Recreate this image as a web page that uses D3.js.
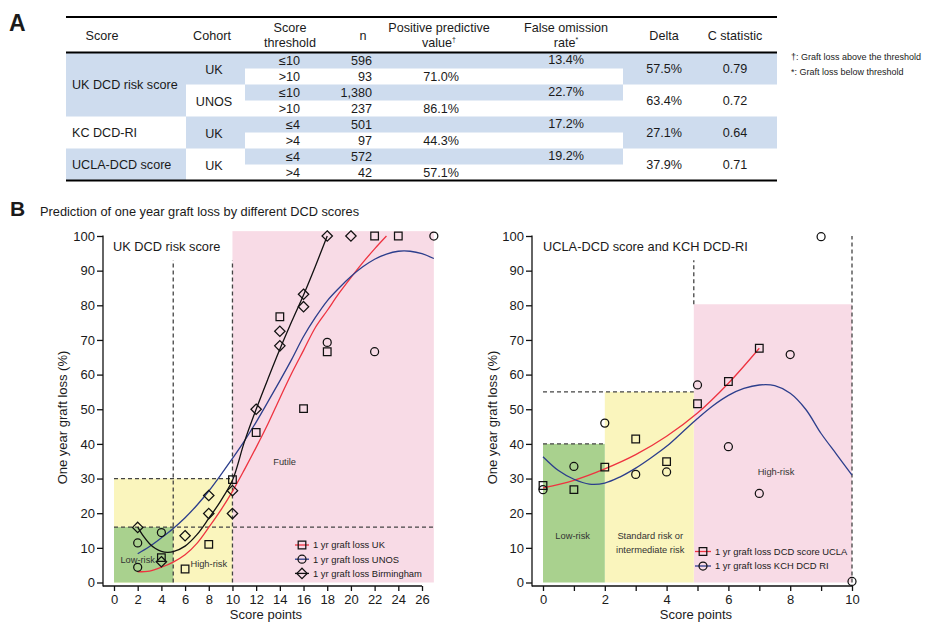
<!DOCTYPE html>
<html>
<head>
<meta charset="utf-8">
<script src="https://cdn.jsdelivr.net/npm/d3@7"></script>
<style>
  body { margin: 0; background: #fff; }
  svg { display: block; }
  text { font-family: Arial, "Liberation Sans", sans-serif; fill: #1a1a1a; }
</style>
</head>
<body>
<svg id="fig" width="925" height="622"></svg>
<script>
// ---- panel A table ----
var scoreNames = ["UK DCD risk score", "KC DCD-RI", "UCLA-DCD score"];
var scoreSpans = [4, 2, 2];
var cohorts = ["UK", "UNOS", "UK", "UK"];
var thresholds = ["≤10", ">10", "≤10", ">10", "≤4", ">4", "≤4", ">4"];
var nValues = [596, 93, 1380, 237, 501, 97, 572, 42];
var ppvValues = [null, 71.0, null, 86.1, null, 44.3, null, 57.1];
var forValues = [13.4, null, 22.7, null, 17.2, null, 19.2, null];
var deltaValues = [57.5, 63.4, 27.1, 37.9];
var cStats = [0.79, 0.72, 0.64, 0.71];

// ---- panel B left: UK DCD risk score ----
var ukX = [4, 6, 8, 10, 12, 14, 16, 18, 22, 24];
var ukY = [7.2, 3.9, 11, 29.7, 43.3, 76.7, 50.2, 66.6, 100, 100];
var unosX = [2, 2, 4, 18, 22, 27];
var unosY = [4.4, 11.4, 14.4, 69.3, 66.6, 100];
var birmX = [2, 4, 6, 8, 8, 10, 10, 12, 14, 14, 16, 16, 18, 20];
var birmY = [15.9, 6, 13.5, 19.9, 25.1, 19.9, 26.5, 50, 68.3, 72.5, 79.6, 83.2, 100, 100];

// fitted curves as drawn in the figure
var ukFitX = [2, 3, 4, 5, 6, 7, 8, 9, 10, 11, 12, 13, 14, 15, 16, 17, 18, 19, 20, 21, 22, 23];
var ukFitY = [3.1, 3.3, 4.4, 5.9, 8, 11.3, 15.9, 20.8, 26.3, 32.5, 39, 45.8, 53.2, 60.4, 67, 73.6, 78.5, 83.5, 88, 92.3, 96.3, 100];
var unosFitX = [2, 3, 4, 5, 6, 7, 8, 9, 10, 11, 12, 13, 14, 15, 16, 17, 18, 19, 20, 21, 22, 23, 24, 25, 26, 27];
var unosFitY = [8.3, 10.4, 12.9, 15.6, 18.7, 22.3, 26.4, 31, 35.8, 40.8, 46.3, 52.2, 58.2, 64.4, 71, 76.5, 81.3, 85, 88.3, 91.1, 93.3, 94.8, 95.6, 95.6, 94.9, 93.5];
var birmFitX = [2, 2.5, 3, 3.5, 4, 4.5, 5, 6, 7, 8, 9, 10, 11, 12, 13, 14, 15, 16, 17, 18];
var birmFitY = [16, 13.3, 11.2, 9.8, 9, 8.7, 8.9, 10.5, 13.8, 18.5, 23.5, 29.5, 40.5, 50, 58.8, 67.3, 75.3, 83, 91.3, 100];

// risk bands [x0, x1, y0, y1]
var leftBands = [
  { c: "#f8dbe6", b: [10, 27, 0, 101.4] },
  { c: "#faf5bd", b: [0, 10, 0, 30] },
  { c: "#a9d18e", b: [0, 5, 0, 16] }
];

// ---- panel B right: UCLA-DCD and KCH DCD-RI ----
var uclaX = [0, 1, 2, 3, 4, 5, 6, 7];
var uclaY = [28, 26.8, 33.3, 41.4, 34.9, 51.6, 58, 67.6];
var kchX = [0, 1, 2, 3, 4, 5, 6, 7, 8, 9, 10];
var kchY = [26.8, 33.5, 46, 31.2, 31.9, 57, 39.2, 25.7, 65.8, 99.8, 0.3];

var uclaFitX = [0, 1, 2, 3, 4, 5, 6, 7];
var uclaFitY = [27.3, 29.5, 32.8, 36.9, 42.2, 48.9, 57.5, 67.6];
var kchFitX = [0, 0.5, 1, 1.5, 2, 2.5, 3, 3.5, 4, 4.5, 5, 5.5, 6, 6.5, 7, 7.5, 8, 8.5, 9, 9.5, 10];
var kchFitY = [36.3, 32.3, 29.8, 28.4, 28.7, 30.5, 33, 36, 39.3, 43.3, 47.3, 51, 54, 56, 57, 56.8, 54.6, 50, 43, 37, 31];

var rightBands = [
  { c: "#f8dbe6", b: [4.88, 10, 0, 80.3] },
  { c: "#faf5bd", b: [2, 4.88, 0, 55] },
  { c: "#a9d18e", b: [0, 2, 0, 40] }
];

var RED = "#ee3340", BLUE = "#2c3e8c", INK = "#111";

var svg = d3.select("#fig");

function zip(xs, ys) { return xs.map(function(x, i) { return [x, ys[i]]; }); }

// ================= table =================
var blueCell = "#cedcee";
var rowY = function(i) { return 52.5 + i * 16; };
var tbl = svg.append("g");

var start = 0;
scoreSpans.forEach(function(span, g) {
  if (g % 2 === 0) tbl.append("rect").attr("x", 66).attr("y", rowY(start)).attr("width", 120).attr("height", span * 16).attr("fill", blueCell);
  tbl.append("text").attr("x", 72).attr("y", rowY(start) + span * 8 + 4.5).style("font-size", "12.6px").text(scoreNames[g]);
  start += span;
});
cohorts.forEach(function(c, g) {
  if (g % 2 === 0) tbl.append("rect").attr("x", 186).attr("y", rowY(g * 2)).attr("width", 59).attr("height", 32).attr("fill", blueCell);
  tbl.append("text").attr("x", 214).attr("y", rowY(g * 2) + 16 + 5).attr("text-anchor", "middle").style("font-size", "12.6px").text(c);
});
thresholds.forEach(function(t, i) {
  if (i % 2 === 0) tbl.append("rect").attr("x", 245).attr("y", rowY(i)).attr("width", 378).attr("height", 16).attr("fill", blueCell);
  var cy = rowY(i) + 8 + 4.5;
  tbl.append("text").attr("x", 300).attr("y", cy).attr("text-anchor", "end").style("font-size", "12.6px").text(t);
  tbl.append("text").attr("x", 372).attr("y", cy).attr("text-anchor", "end").style("font-size", "12.6px").text(d3.format(",")(nValues[i]));
  if (ppvValues[i] != null) tbl.append("text").attr("x", 459).attr("y", cy).attr("text-anchor", "end").style("font-size", "12.6px").text(ppvValues[i].toFixed(1) + "%");
  if (forValues[i] != null) tbl.append("text").attr("x", 566).attr("y", cy - 1).attr("text-anchor", "middle").style("font-size", "12.6px").text(forValues[i].toFixed(1) + "%");
});
deltaValues.forEach(function(d, g) {
  if (g % 2 === 0) tbl.append("rect").attr("x", 623).attr("y", rowY(g * 2)).attr("width", 154).attr("height", 32).attr("fill", blueCell);
  var cy = rowY(g * 2) + 16 + 4.5;
  tbl.append("text").attr("x", 664).attr("y", cy).attr("text-anchor", "middle").style("font-size", "12.6px").text(d.toFixed(1) + "%");
  tbl.append("text").attr("x", 735).attr("y", cy).attr("text-anchor", "middle").style("font-size", "12.6px").text(cStats[g].toFixed(2));
});

// header
[[102, ["Score"]], [212, ["Cohort"]], [290, ["Score", "threshold"]], [363, ["n"]],
 [439, ["Positive predictive", "value"]], [566, ["False omission", "rate"]], [664, ["Delta"]], [735, ["C statistic"]]]
.forEach(function(h) {
  h[1].forEach(function(line, k) {
    var y = h[1].length === 1 ? 39.5 : 31.5 + k * 15;
    var t = tbl.append("text").attr("x", h[0]).attr("y", y).attr("text-anchor", "middle").style("font-size", "12.6px").text(line);
    if (line === "value") t.append("tspan").attr("dy", -5).style("font-size", "7px").text("†");
    if (line === "rate") t.append("tspan").attr("dy", -5).style("font-size", "7px").text("*");
  });
});
[17, 52.5, 180.5].forEach(function(y) {
  tbl.append("line").attr("x1", 66).attr("x2", 777).attr("y1", y).attr("y2", y).attr("stroke", "#000").attr("stroke-width", 2);
});

var fn = svg.append("g").style("font-size", "9px");
fn.append("text").attr("x", 791).attr("y", 60).text("†: Graft loss above the threshold");
fn.append("text").attr("x", 791).attr("y", 75).text("*: Graft loss below threshold");

svg.append("text").attr("x", 9).attr("y", 31).style("font-size", "23px").style("font-weight", "bold").text("A");
svg.append("text").attr("x", 10).attr("y", 216).style("font-size", "21px").style("font-weight", "bold").text("B");
svg.append("text").attr("x", 40).attr("y", 215.5).style("font-size", "12.8px").text("Prediction of one year graft loss by different DCD scores");

// ================= charts =================
function markerPath(shape) {
  if (shape === "square") return "M-3.8,-3.8H3.8V3.8H-3.8Z";
  if (shape === "diamond") return "M0,-5.2L5.2,0L0,5.2L-5.2,0Z";
  return "M4,0A4,4 0 1,1 -4,0A4,4 0 1,1 4,0Z";
}

function drawPanel(opt) {
  var x = opt.x, y = opt.y;
  var g = svg.append("g");

  opt.bands.forEach(function(b) {
    g.append("rect")
      .attr("x", x(b.b[0])).attr("width", x(b.b[1]) - x(b.b[0]))
      .attr("y", y(b.b[3])).attr("height", y(b.b[2]) - y(b.b[3]))
      .attr("fill", b.c);
  });

  opt.dashes.forEach(function(d) {
    g.append("line")
      .attr("x1", x(d[0])).attr("x2", x(d[1])).attr("y1", y(d[2])).attr("y2", y(d[3]))
      .attr("stroke", "#444").attr("stroke-width", 1.3).attr("stroke-dasharray", "4,3");
  });

  opt.labels.forEach(function(l) {
    g.append("text").attr("x", x(l[1])).attr("y", y(l[2])).attr("text-anchor", "middle")
      .style("font-size", "9.3px").style("fill", "#333").text(l[0]);
  });

  var line = d3.line().x(function(d) { return x(d[0]); }).y(function(d) { return y(d[1]); })
    .curve(d3.curveCatmullRom.alpha(0.5));
  opt.fits.forEach(function(f) {
    g.append("path").datum(f.pts).attr("d", line)
      .attr("fill", "none").attr("stroke", f.c).attr("stroke-width", 1.3);
  });

  opt.series.forEach(function(s) {
    g.selectAll(null).data(s.pts).enter().append("path")
      .attr("d", markerPath(s.shape))
      .attr("transform", function(d) { return "translate(" + x(d[0]) + "," + y(d[1]) + ")"; })
      .attr("fill", "none").attr("stroke", INK).attr("stroke-width", 1.25);
  });

  // legend
  opt.legend.items.forEach(function(it, i) {
    var ly = opt.legend.y + i * opt.legend.dy;
    var lg = g.append("g");
    lg.append("line").attr("x1", opt.legend.x).attr("x2", opt.legend.x + opt.legend.w)
      .attr("y1", ly).attr("y2", ly).attr("stroke", it.c).attr("stroke-width", 1.3);
    lg.append("path").attr("d", markerPath(it.shape))
      .attr("transform", "translate(" + (opt.legend.x + opt.legend.w / 2) + "," + ly + ")")
      .attr("fill", "none").attr("stroke", INK).attr("stroke-width", 1.25);
    lg.append("text").attr("x", opt.legend.x + opt.legend.w + 4).attr("y", ly + 3.3)
      .style("font-size", "9.4px").text(it.label);
  });

  // axes
  var yAxis = d3.axisLeft(y).tickValues(d3.range(0, 101, 10)).tickSize(6).tickSizeOuter(0).tickPadding(2);
  var ya = g.append("g").attr("transform", "translate(" + opt.axisX + ",0)").call(yAxis);
  ya.select(".domain").remove();
  ya.selectAll("line").attr("stroke", INK).attr("stroke-width", 1.3);
  ya.selectAll("text").style("font-size", "13px").style("font-family", "Arial, 'Liberation Sans', sans-serif").attr("fill", "#1a1a1a");
  g.append("line").attr("x1", opt.axisX).attr("x2", opt.axisX).attr("y1", y(100) - 0.6).attr("y2", opt.axisY + 0.6)
    .attr("stroke", INK).attr("stroke-width", 1.3);

  var xAxis = d3.axisBottom(x).tickValues(opt.xTicks).tickSize(5).tickSizeOuter(0).tickPadding(4)
    .tickFormat(opt.xFormat);
  var xa = g.append("g").attr("transform", "translate(0," + opt.axisY + ")").call(xAxis);
  xa.select(".domain").remove();
  xa.selectAll("line").attr("stroke", INK).attr("stroke-width", 1.3);
  xa.selectAll("text").style("font-size", "13px").style("font-family", "Arial, 'Liberation Sans', sans-serif").attr("fill", "#1a1a1a");
  g.append("line").attr("x1", opt.axisX).attr("x2", x(opt.xMax)).attr("y1", opt.axisY).attr("y2", opt.axisY)
    .attr("stroke", INK).attr("stroke-width", 1.3);

  g.append("text").attr("x", opt.titleX).attr("y", 251).style("font-size", "12.8px").text(opt.title);
  g.append("text").attr("x", opt.xLabelX).attr("y", 619).attr("text-anchor", "middle").style("font-size", "13px").text("Score points");
  g.append("text").attr("transform", "translate(" + opt.yLabelX + ",417.5) rotate(-90)")
    .attr("text-anchor", "middle").style("font-size", "13px").text("One year graft loss (%)");
}

var yScale = d3.scaleLinear().domain([0, 100]).range([582.5, 236]);

var xL = d3.scaleLinear().domain([0, 26]).range([114, 422]);
drawPanel({
  x: xL, y: yScale, axisX: 103, axisY: 586, xMax: 26,
  xTicks: d3.range(0, 27, 2), xFormat: d3.format("d"),
  bands: leftBands,
  dashes: [[5, 5, 0, 93], [10, 10, 0, 93], [0, 10, 30, 30], [0, 27, 16, 16]],
  labels: [["Low-risk", 2, 5.5], ["High-risk", 8, 4.4], ["Futile", 14.4, 33.9]],
  fits: [
    { c: RED, pts: zip(ukFitX, ukFitY) },
    { c: BLUE, pts: zip(unosFitX, unosFitY) },
    { c: INK, pts: zip(birmFitX, birmFitY) }
  ],
  series: [
    { shape: "square", pts: zip(ukX, ukY) },
    { shape: "circle", pts: zip(unosX, unosY) },
    { shape: "diamond", pts: zip(birmX, birmY) }
  ],
  legend: { x: 295, y: 545, dy: 14.2, w: 14, items: [
    { c: RED, shape: "square", label: "1 yr graft loss UK" },
    { c: BLUE, shape: "circle", label: "1 yr graft loss UNOS" },
    { c: INK, shape: "diamond", label: "1 yr graft loss Birmingham" }
  ] },
  title: "UK DCD risk score", titleX: 113, xLabelX: 266, yLabelX: 67
});

var xR = d3.scaleLinear().domain([0, 10]).range([543, 852]);
drawPanel({
  x: xR, y: yScale, axisX: 532, axisY: 586, xMax: 10,
  xTicks: d3.range(0, 11, 1), xFormat: function(d) { return d % 2 === 0 ? d : ""; },
  bands: rightBands,
  dashes: [[4.88, 4.88, 80.3, 93], [10, 10, 0, 100], [0, 2, 40, 40], [0, 4.88, 55, 55]],
  labels: [["Low-risk", 0.96, 12.6], ["Standard risk or", 3.47, 12.6], ["intermediate risk", 3.47, 8.4], ["High-risk", 7.54, 31]],
  fits: [
    { c: RED, pts: zip(uclaFitX, uclaFitY) },
    { c: BLUE, pts: zip(kchFitX, kchFitY) }
  ],
  series: [
    { shape: "square", pts: zip(uclaX, uclaY) },
    { shape: "circle", pts: zip(kchX, kchY) }
  ],
  legend: { x: 695, y: 551.5, dy: 14.5, w: 16, items: [
    { c: RED, shape: "square", label: "1 yr graft loss DCD score UCLA" },
    { c: BLUE, shape: "circle", label: "1 yr graft loss KCH DCD RI" }
  ] },
  title: "UCLA-DCD score and KCH DCD-RI", titleX: 543, xLabelX: 696, yLabelX: 497
});
</script>
</body>
</html>
